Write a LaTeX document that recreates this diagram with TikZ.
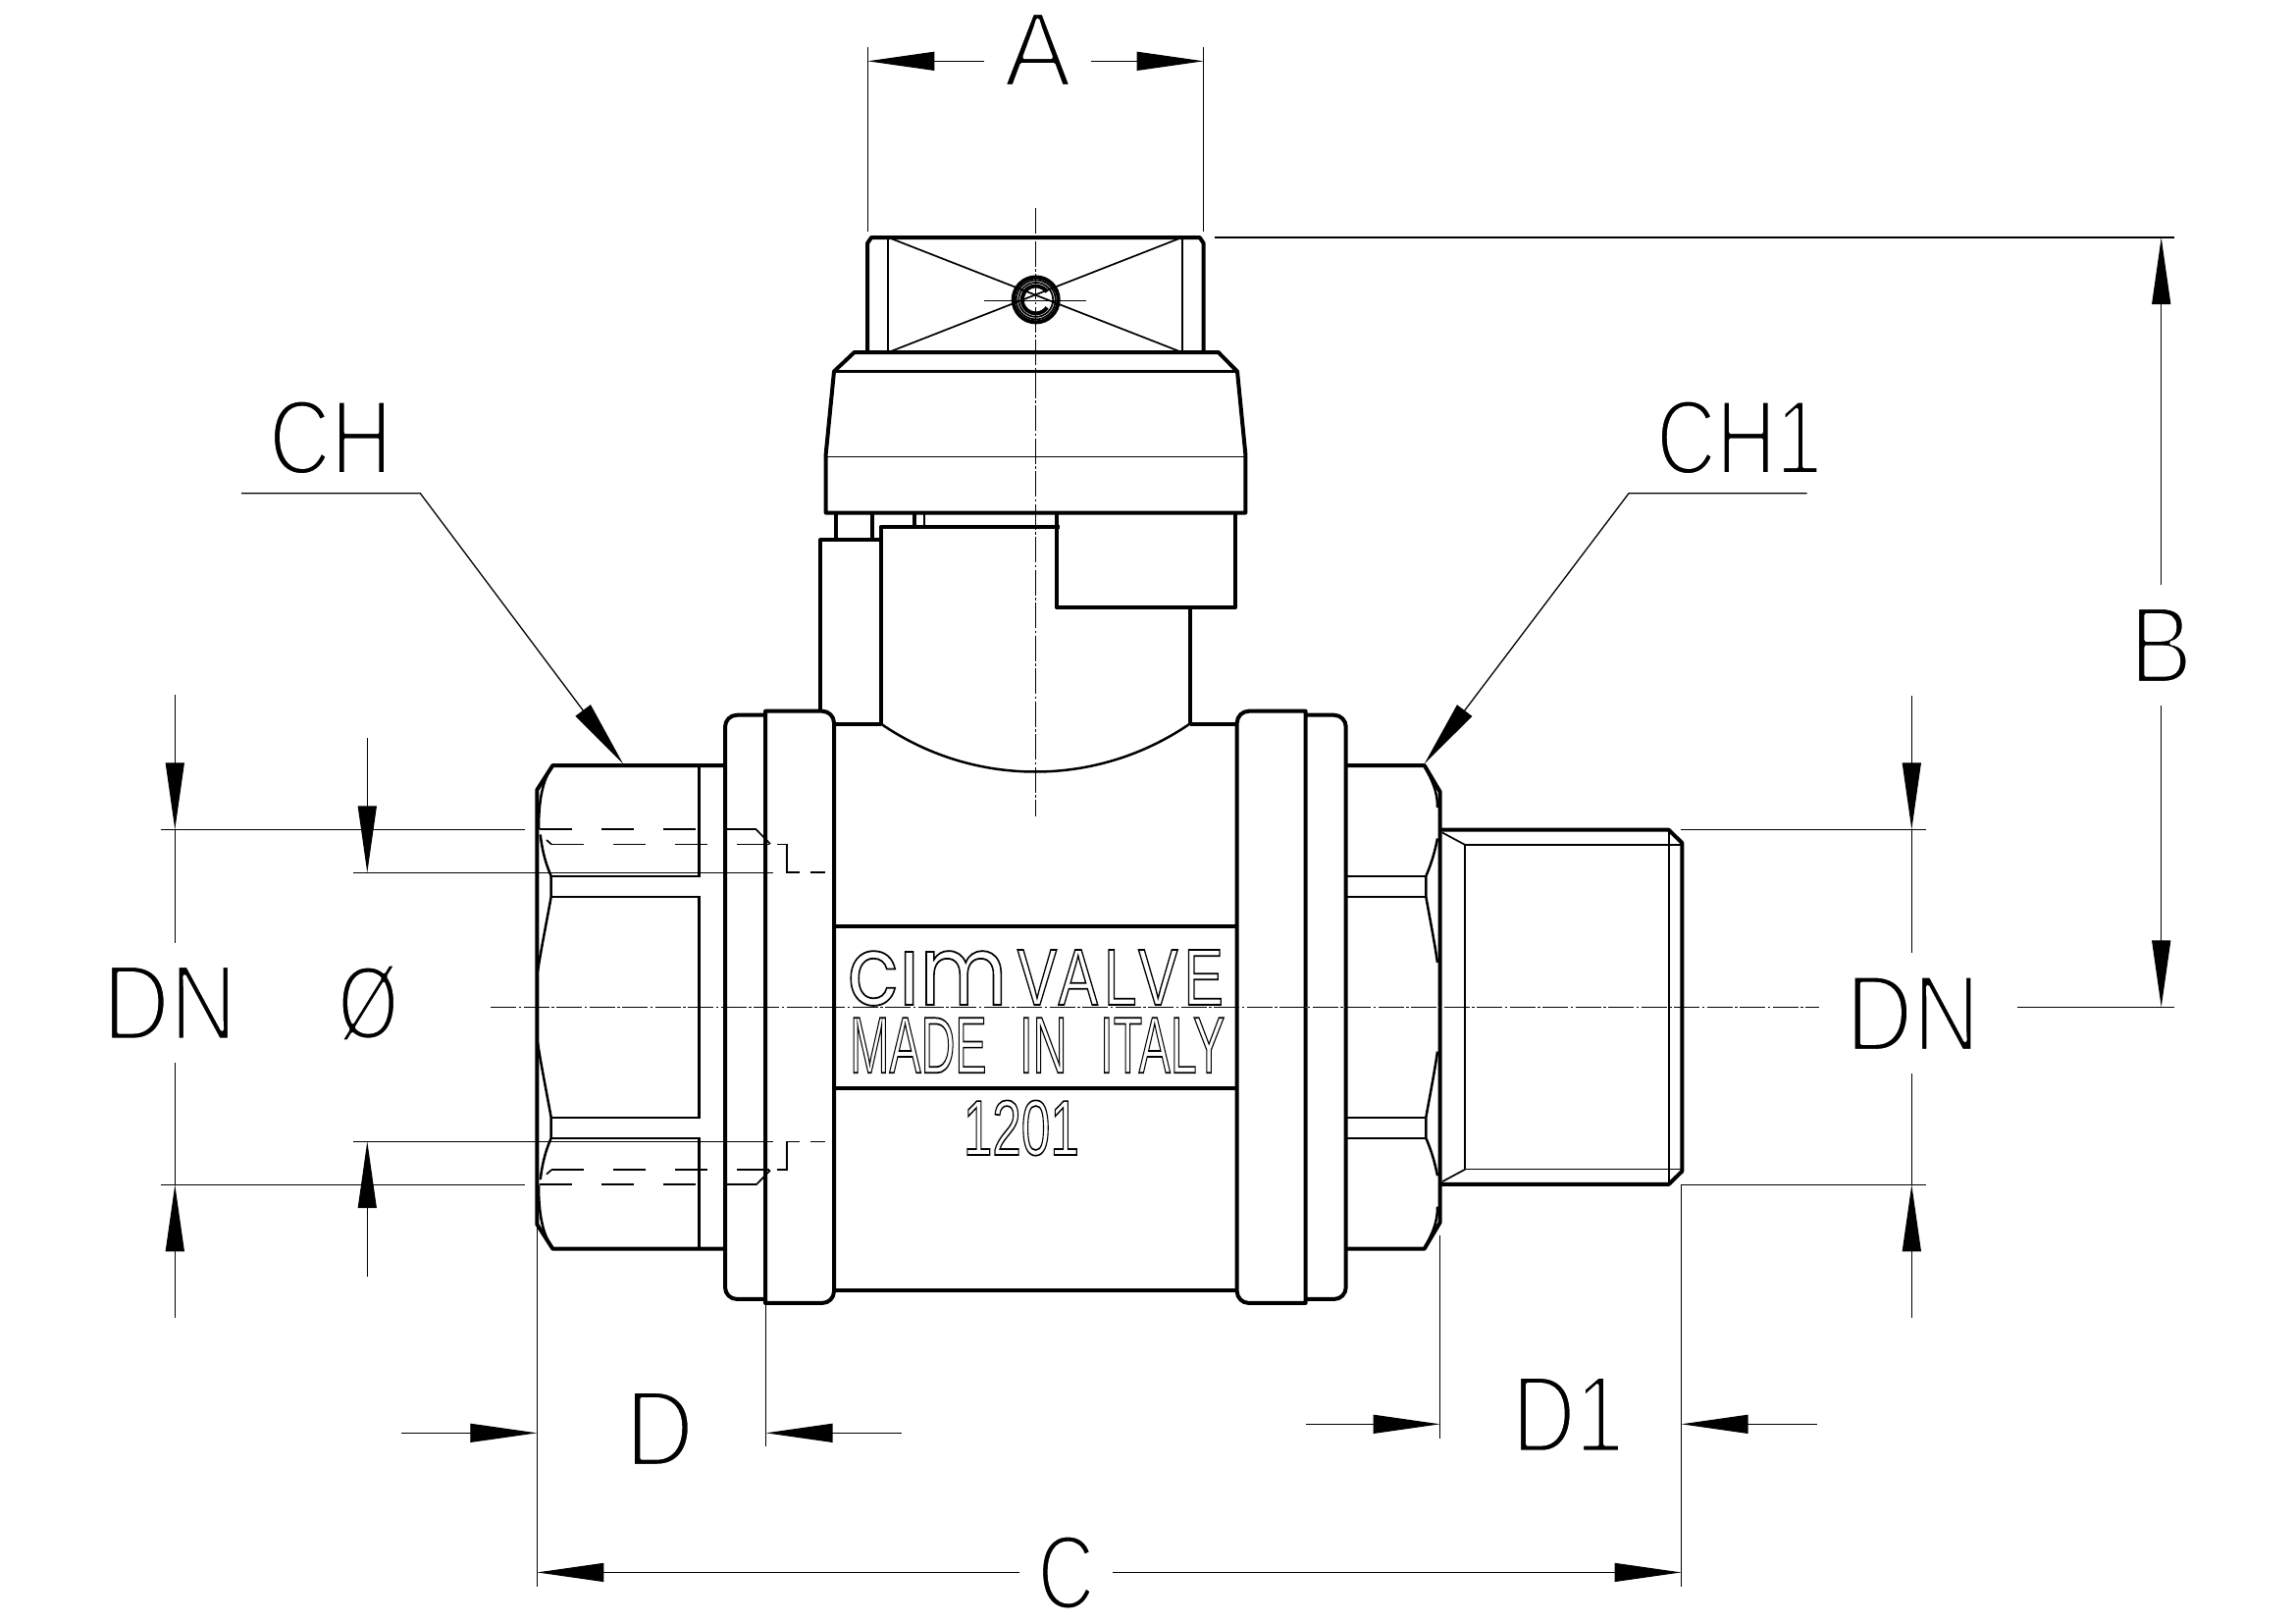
\documentclass[tikz,border=0pt]{standalone}
\usepackage{fontspec}
\usepackage{graphicx}
\usetikzlibrary{arrows.meta}

\newfontfamily\dimfont{Liberation Sans}
\newfontfamily\platefont[LetterSpace=10]{Liberation Sans}
\newfontfamily\logofont{Poppins}
\newcommand{\thinstroke}[1]{\special{pdf:code 2 Tr 1 1 1 RG 0.9 w 1 j}#1\special{pdf:code 0 Tr 0 0 0 RG}}
\newcommand{\hollow}[1]{\special{pdf:code 1 Tr 0 0 0 RG 0.5 w}#1\special{pdf:code 0 Tr}}
\newcommand{\dimtext}[3]{\resizebox{#1mm}{#2mm}{\dimfont\fontsize{24}{24}\selectfont\thinstroke{#3}}}
\newcommand{\platetext}[3]{\resizebox{#1mm}{#2mm}{\fontsize{24}{24}\selectfont\hollow{#3}}}

\tikzset{
    edge/.style={line width=0.4mm,line join=round},
    medium/.style={line width=0.25mm},
    fine/.style={line width=0.17mm},
    dimline/.style={line width=0.13mm},
    axisline/.style={line width=0.13mm,dash pattern=on 2.6mm off 0.25mm on 0.25mm off 0.25mm},
    hidden/.style={line width=0.17mm,dash pattern=on 3.3mm off 3mm},
    dimtip/.tip={Triangle[length=6.8mm,width=1.9mm]},
    dimlabel/.style={inner xsep=2.5mm,inner ysep=2.3mm,outer sep=0pt},
    plate/.style={inner sep=0pt,outer sep=0pt},
}

\begin{document}
\begin{tikzpicture}[x=0.1mm,y=-0.1mm]
    \useasboundingbox (0,0) rectangle (2339,1654);

    % handle
    \draw[edge] (884,359) -- (884,248) -- (888,242) -- (1222.7,242) -- (1226.7,248) -- (1226.7,359);
    \draw[fine] (905,242) -- (905,359);
    \draw[fine] (1205,242) -- (1205,359);
    \draw[fine] (908,243) -- (1202,358);
    \draw[fine] (1202,243) -- (908,358);
    \draw[fine] (1003,306.4) -- (1107,306.4);
    \draw[edge] (1055.7,305.4) circle (23);
    \draw[fine] (1055.7,305.4) circle (20);
    \draw[fine] (1055.7,305.4) circle (17.5);
    \draw[edge] (1055.7,305.4) ++(-35:14) arc (-35:-325:14);

    % cap
    \draw[edge] (870.7,359) -- (1241.7,359) -- (1261,378.5) -- (1269.3,462.5) -- (1269.3,522.5)
        -- (841.7,522.5) -- (841.7,462.5) -- (850,378.5) -- cycle;
    \draw[medium] (850,378.5) -- (1261,378.5);
    \draw[fine] (841.7,465.4) -- (1269.3,465.4);

    % neck
    \draw[edge] (851.7,522.5) -- (851.7,550);
    \draw[edge] (889,522.5) -- (889,550);
    \draw[edge] (931.7,522.5) -- (931.7,536.8);
    \draw[fine] (942,522.5) -- (942,536.8);
    \draw[edge] (897.7,737.5) -- (897.7,536.8) -- (1080,536.8);
    \draw[edge] (836,725) -- (836,550) -- (897.7,550);
    \draw[edge] (1076.7,522.5) -- (1076.7,618.6) -- (1259.3,618.6) -- (1259.3,522.5);
    \draw[edge] (1212.7,618.6) -- (1212.7,737.5);

    % plate lettering
    \node[plate] (lblCim) at (945,1024) [anchor=base] {\scalebox{0.88}[1]{\logofont\fontsize{28}{28}\selectfont\hollow{cim}}};
    \fill[white] (915,930) rectangle (942,967);
    \node[plate] (lblValve) at (1141.8,996) {\platetext{21}{5.6}{\platefont VALVE}};
    \node[plate] (lblMade) at (1057.2,1065.3) {\platetext{38.2}{5.6}{\dimfont MADE\hspace{0.7em}IN\hspace{0.7em}ITALY}};
    \node[plate] (lblCode) at (1040.8,1149.5) {\platetext{11.8}{5.56}{\dimfont 1201}};

    % body
    \draw[edge] (850,737.5) -- (897.7,737.5);
    \draw[edge] (1212.7,737.5) -- (1260.7,737.5);
    \draw[edge] (850,1315) -- (1260.7,1315);
    \draw[edge] (850,944) -- (1260.7,944);
    \draw[edge] (850,1108.5) -- (1260.7,1108.5);
    \draw[medium] (897.7,737.5) .. controls (992.3,802.8) and (1118,802.8) .. (1212.7,737.5);

    % the two halves about the axis
    \foreach \s in {1,-1} {
        \begin{scope}[shift={(0,1026.3)},yscale=\s,shift={(0,-1026.3)}]
            % flanges
            \draw[edge,rounded corners=1.2mm] (739,1026.3) -- (739,728.7) -- (780,728.7);
            \draw[edge] (780,1026.3) -- (780,724.7) [rounded corners=1.2mm] -- (850,724.7) [sharp corners] -- (850,1026.3);
            \draw[edge,rounded corners=1.2mm] (1371.7,1026.3) -- (1371.7,728.7) -- (1330.6,728.7);
            \draw[edge] (1330.6,1026.3) -- (1330.6,724.7) [rounded corners=1.2mm] -- (1260.7,724.7) [sharp corners] -- (1260.7,1026.3);

            % left hexagon
            \draw[edge] (547.3,1026.3) -- (547.3,805) -- (563.3,780) -- (739,780);
            \draw[medium] (563.3,780) .. controls (553,795) and (549,815) .. (549,845);
            \draw[medium] (550.7,850.5) .. controls (553,870) and (557,882) .. (561.7,892.8)
                -- (561.7,913.8) .. controls (556,945) and (551,970) .. (548,990);
            \draw[medium] (561.7,892.8) -- (712.3,892.8) -- (712.3,780);
            \draw[medium] (561.7,913.8) -- (712.3,913.8) -- (712.3,1026.3);

            % right hexagon
            \draw[edge] (1371.7,780) -- (1451.7,780) -- (1467.7,807) -- (1467.7,1026.3);
            \draw[medium] (1451.7,780) .. controls (1459,795) and (1465,805) .. (1465,823);
            \draw[medium] (1465,854.4) .. controls (1462,870) and (1458,882) .. (1453.3,892.8)
                -- (1453.3,913.8) .. controls (1458,940) and (1462,960) .. (1465,981);
            \draw[medium] (1371.7,892.8) -- (1453.3,892.8);
            \draw[medium] (1371.7,913.8) -- (1453.3,913.8);

            % thread
            \draw[edge] (1467.7,845.7) -- (1700.7,845.7) -- (1714.3,859) -- (1714.3,1026.3);
            \draw[fine] (1493.3,1026.3) -- (1493.3,861) -- (1713,861);
            \draw[fine] (1470,848.5) -- (1493.3,861);
            \draw[fine] (1700.7,845.7) -- (1700.7,1026.3);

            % hidden bore
            \draw[hidden] (550,845.3) -- (770.7,845.3);
            \draw[fine] (770.7,845.3) -- (785,860);
            \draw[fine] (557,856) -- (562,860.4);
            \draw[hidden] (562,860.4) -- (787,860.4);
            \draw[fine] (791.7,860.4) -- (801.7,860.4) -- (801.7,889) -- (815,889);
            \draw[fine] (826,889) -- (841,889);

            % extension lines
            \draw[dimline] (164,845.3) -- (535,845.3);
            \draw[dimline] (360,889.4) -- (788,889.4);
            \draw[dimline] (1713,845.3) -- (1963,845.3);
        \end{scope}
    }

    % centre lines
    \draw[axisline] (1055.3,212) -- (1055.3,832);
    \draw[axisline] (500,1026.3) -- (1854,1026.3);

    % extension lines
    \draw[dimline] (884.3,48) -- (884.3,236);
    \draw[dimline] (1226.7,48) -- (1226.7,236);
    \draw[dimline] (1238,242) -- (2216,242);
    \draw[dimline] (2056,1026.3) -- (2216,1026.3);
    \draw[dimline] (547.3,1250) -- (547.3,1616.7);
    \draw[dimline] (780.6,1326) -- (780.6,1474);
    \draw[dimline] (1467.7,1258.6) -- (1467.7,1466);
    \draw[dimline] (1713.5,1207.3) -- (1713.5,1616.7);

    % dimension labels
    \node[dimlabel,inner xsep=2mm,inner ysep=0.5mm] (lblA) at (1057.5,50.5) {\dimtext{6.9}{7.5}{A}};
    \node[dimlabel] (lblB) at (2202.4,657.4) {\dimtext{6.4}{7.7}{B}};
    \node[dimlabel,inner xsep=1.85mm,inner ysep=0.5mm] (lblC) at (1086.5,1602.5) {\dimtext{5.8}{7.5}{C}};
    \node[dimlabel] (lblD) at (672.2,1455.8) {\dimtext{7}{7.6}{D}};
    \node[dimlabel] (lblDa) at (1598.2,1441.3) {\dimtext{11.4}{7.7}{D1}};
    \node[dimlabel] (lblDNl) at (173,1021.8) {\dimtext{13.7}{7.57}{DN}};
    \node[dimlabel] (lblDNr) at (1949.5,1032.7) {\dimtext{13.7}{7.65}{DN}};
    \node[dimlabel] (lblBore) at (375.3,1022) {\dimtext{6.2}{7.6}{Ø}};
    \node[dimlabel] (lblCH) at (337,445.8) {\dimtext{12.6}{7.57}{CH}};
    \node[dimlabel] (lblCHa) at (1772.5,445.8) {\dimtext{16.9}{7.57}{CH1}};

    % arrow ends
    \coordinate (tipAl) at (884.3,62.3);
    \coordinate (tipAr) at (1226.7,62.3);
    \coordinate (tipBt) at (2202.7,242);
    \coordinate (tipBb) at (2202.7,1026.3);
    \coordinate (tipCl) at (547.3,1602.4);
    \coordinate (tipCr) at (1713.5,1602.4);
    \coordinate (tipDl) at (547.3,1460.3);
    \coordinate (tipDr) at (780.6,1460.3);
    \coordinate (endDl) at (409.3,1460.3);
    \coordinate (endDr) at (918.7,1460.3);
    \coordinate (tipDal) at (1467.7,1451.3);
    \coordinate (tipDar) at (1713.5,1451.3);
    \coordinate (endDal) at (1331,1451.3);
    \coordinate (endDar) at (1851.5,1451.3);
    \coordinate (tipNlt) at (178.3,845.3);
    \coordinate (tipNlb) at (178.3,1207.3);
    \coordinate (endNlt) at (178.3,708.4);
    \coordinate (endNlb) at (178.3,1343);
    \coordinate (tipNrt) at (1948.3,845.3);
    \coordinate (tipNrb) at (1948.3,1207.3);
    \coordinate (endNrt) at (1948.3,709.3);
    \coordinate (endNrb) at (1948.3,1343);
    \coordinate (tipOt) at (374.3,889.4);
    \coordinate (tipOb) at (374.3,1163.2);
    \coordinate (endOt) at (374.3,752);
    \coordinate (endOb) at (374.3,1301);
    \coordinate (ldrCHa) at (246,502.7);
    \coordinate (ldrCHb) at (428.3,502.7);
    \coordinate (tipCH) at (635,778.3);
    \coordinate (ldrCHc) at (1841.7,502.7);
    \coordinate (ldrCHd) at (1660,502.7);
    \coordinate (tipCHa) at (1451.7,778.3);

    % dimension lines
    \draw[dimline,-dimtip] (lblA.west |- tipAl) -- (tipAl);
    \draw[dimline,-dimtip] (lblA.east |- tipAr) -- (tipAr);
    \draw[dimline,-dimtip] (lblB.north -| tipBt) -- (tipBt);
    \draw[dimline,-dimtip] (lblB.south -| tipBb) -- (tipBb);
    \draw[dimline,-dimtip] (lblC.west |- tipCl) -- (tipCl);
    \draw[dimline,-dimtip] (lblC.east |- tipCr) -- (tipCr);
    \draw[dimline,-dimtip] (endDl) -- (tipDl);
    \draw[dimline,-dimtip] (endDr) -- (tipDr);
    \draw[dimline,-dimtip] (endDal) -- (tipDal);
    \draw[dimline,-dimtip] (endDar) -- (tipDar);
    \draw[dimline,-dimtip] (endNlt) -- (tipNlt);
    \draw[dimline,-dimtip] (endNlb) -- (tipNlb);
    \draw[dimline] (tipNlt) -- (lblDNl.north -| tipNlt);
    \draw[dimline] (tipNlb) -- (lblDNl.south -| tipNlb);
    \draw[dimline,-dimtip] (endNrt) -- (tipNrt);
    \draw[dimline,-dimtip] (endNrb) -- (tipNrb);
    \draw[dimline] (tipNrt) -- (lblDNr.north -| tipNrt);
    \draw[dimline] (tipNrb) -- (lblDNr.south -| tipNrb);
    \draw[dimline,-dimtip] (endOt) -- (tipOt);
    \draw[dimline,-dimtip] (endOb) -- (tipOb);
    \draw[dimline,-dimtip] (ldrCHa) -- (ldrCHb) -- (tipCH);
    \draw[dimline,-dimtip] (ldrCHc) -- (ldrCHd) -- (tipCHa);
\end{tikzpicture}
\end{document}
